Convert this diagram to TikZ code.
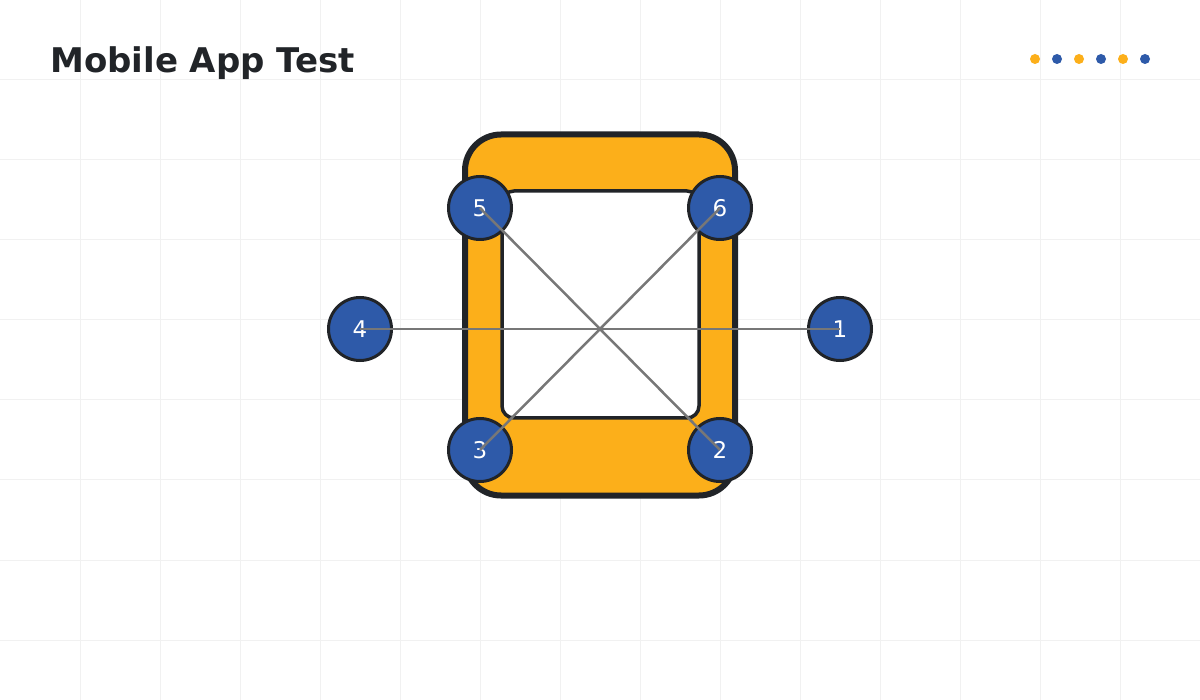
\documentclass[tikz,border=0pt]{standalone}
\usepackage{fontspec}
\setmainfont{DejaVu Sans}
\definecolor{gridc}{HTML}{F1F1F1}
\definecolor{dark}{HTML}{212428}
\definecolor{orng}{HTML}{FCAF1A}
\definecolor{blu}{HTML}{2E5AA9}
\definecolor{linec}{HTML}{777777}
\tikzset{
  pt/.style={circle, draw=dark, line width=3pt, fill=blu, minimum size=63pt, inner sep=0pt,
    text=white, font=\fontsize{23}{23}\selectfont, yshift=0pt},
  conn/.style={draw=linec, line width=2.5pt},
  dotc/.style={circle, inner sep=0pt, minimum size=10pt},
}
\begin{document}
\begin{tikzpicture}[x=1pt,y=-1pt]
\useasboundingbox (0,0) rectangle (1200,700);
\fill[white] (0,0) rectangle (1200,700);
\foreach \i in {80,160,...,1120} \draw[gridc, line width=1pt] (\i,0) -- (\i,700);
\foreach \j in {80,160,...,640} \draw[gridc, line width=1pt] (0,\j) -- (1200,\j);
\node[anchor=base west, font=\fontsize{34}{34}\selectfont\bfseries, text=dark, inner sep=0pt] (title) at (50,73) {Mobile App Test};
\foreach \x/\c [count=\k] in {1035/orng,1057/blu,1079/orng,1101/blu,1123/orng,1145/blu}
  \node[dotc, fill=\c] (dot\k) at (\x,59) {};
\draw[dark, line width=6pt, fill=orng, rounded corners=36pt] (465,134.5) rectangle (735,495.5);
\draw[dark, line width=3.5pt, fill=white, rounded corners=12pt] (502,191) rectangle (699,418);
\node[pt] (n1) at (840,329) {1};
\node[pt] (n2) at (720,450) {2};
\node[pt] (n3) at (480,450) {3};
\node[pt] (n4) at (360,329) {4};
\node[pt] (n5) at (480,208) {5};
\node[pt] (n6) at (720,208) {6};
\draw[conn] (n4.center) -- (n1.center);
\draw[conn] (n5.center) -- (n2.center);
\draw[conn] (n6.center) -- (n3.center);
\end{tikzpicture}
\end{document}
